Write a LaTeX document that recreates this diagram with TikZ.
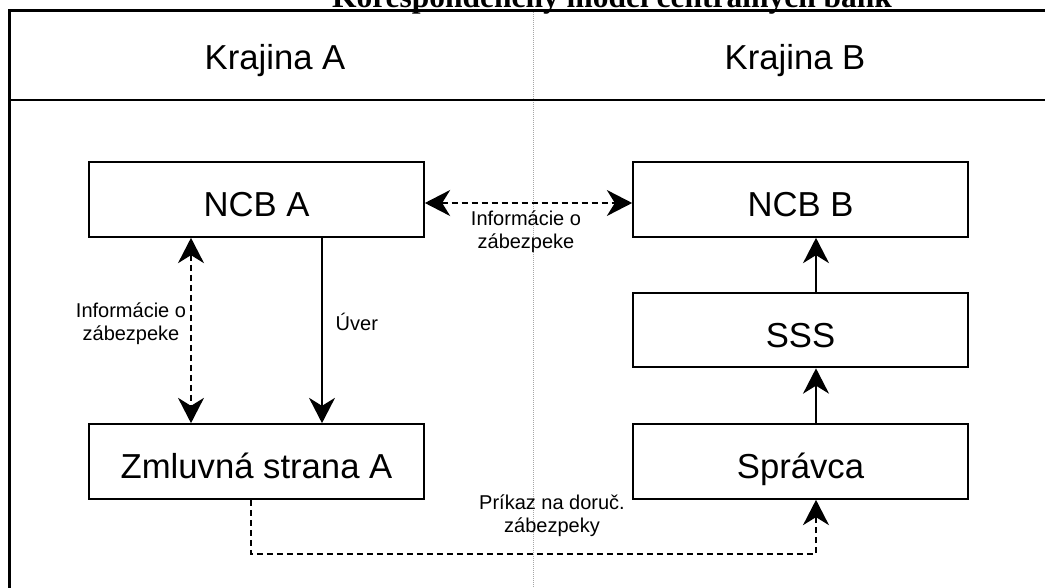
\documentclass[tikz,border=0pt]{standalone}
\usepackage{fontspec}
\setmainfont{Liberation Sans}
\newfontfamily\titlefont{Liberation Serif}
\usetikzlibrary{arrows.meta,positioning}
\tikzstyle{box} = [draw, line width=1.5pt, minimum width=251pt, minimum height=56pt, inner sep=0pt, text height=30pt, text depth=3.9pt, font=\fontsize{26}{30}\selectfont]
\tikzstyle{head} = [text height=24pt, text depth=5.4pt, font=\fontsize{26}{30}\selectfont]
\tikzstyle{arrow} = [line width=1.1pt, >={Stealth[length=19pt, width=19.5pt, inset=6pt]}]
\tikzstyle{dasharrow} = [arrow, dash pattern=on 4.5pt off 3pt]
\tikzstyle{lbl} = [align=center, font=\fontsize{15}{17.25}\selectfont]

\begin{document}
\begin{tikzpicture}[x=0.75pt, y=-0.75pt]
\useasboundingbox (0,0) rectangle (1045,588);
\draw[gray!70, densely dotted, line width=0.5pt] (533,10) -- (533,588);
\node[anchor=base, font=\titlefont\bfseries\fontsize{23.6}{28}\selectfont] (title) at (612,7.5) {Korešpondenčný model centrálnych bánk};
\draw[line width=2.2pt] (9.5,588) -- (9.5,10.5) -- (1045,10.5);
\draw[line width=1.8pt] (9.5,100) -- (1045,100);
\node[head] (krajA) at (275,57) {Krajina A};
\node[head] (krajB) at (795,57) {Krajina B};

\node[box] (ncbA) at (256.5,199.5) {NCB A};
\node[box] (zmluva) at (256.5,461.5) {Zmluvná strana A};
\node[box] (ncbB) at (800.5,199.5) {NCB B};
\node[box] (sss) at (800.5,330) {SSS};
\node[box] (spravca) at (800.5,461.5) {Správca};

\coordinate (infoY) at (0,203);
\coordinate (infoX) at (191,0);
\coordinate (uverX) at (322,0);
\coordinate (rightX) at (816,0);
\coordinate (cmdL) at (251,554);
\coordinate (cmdR) at (816,554);

\draw[dasharrow, <->] (ncbA.east |- infoY) -- (ncbB.west |- infoY);
\node[lbl] (infoB) at (526,232) {Informácie o\\zábezpeke};
\draw[dasharrow, <->] (ncbA.south -| infoX) -- (zmluva.north -| infoX);
\node[lbl] (infoA) at (131,324) {Informácie o\\zábezpeke};
\draw[arrow, ->] (ncbA.south -| uverX) -- (zmluva.north -| uverX);
\node[lbl, anchor=west] (uver) at (331,322) {Úver};
\draw[arrow, ->] (sss.north -| rightX) -- (ncbB.south -| rightX);
\draw[arrow, ->] (spravca.north -| rightX) -- (sss.south -| rightX);
\draw[dasharrow, ->] (zmluva.south -| cmdL) -- (cmdL) -- (cmdR) -- (spravca.south -| cmdR);
\node[lbl] (prikaz) at (552,516) {Príkaz na doruč.\\zábezpeky};
\end{tikzpicture}
\end{document}
